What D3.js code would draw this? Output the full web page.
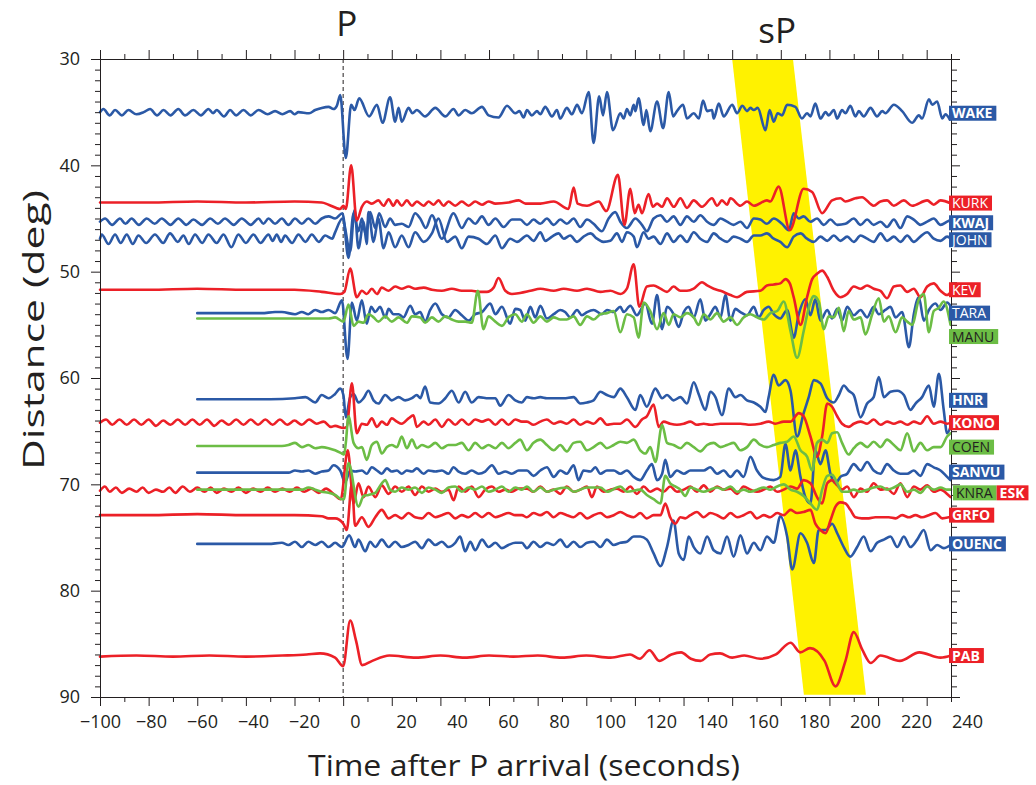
<!DOCTYPE html>
<html><head><meta charset="utf-8">
<script src="https://cdn.jsdelivr.net/npm/d3@7"></script>
<style>body{margin:0;background:#fff;}svg text{font-family:"Open Sans",sans-serif;fill:#231f20;}</style>
</head><body><svg id="c" width="1036" height="785"></svg>
<script>
// ---------------- DATA ----------------
const stationNames = ["WAKE","KURK","KWAJ","JOHN","KEV","TARA","MANU","HNR","KONO","COEN","SANVU","KNRA","ESK","GRFO","OUENC","PAB"];
const stationDist  = [35.1,43.5,45.3,46.9,51.7,53.9,54.4,62.0,64.2,66.4,68.9,70.5,70.6,72.9,75.6,86.2];
const labelDist    = [35.1,43.55,45.4,47.0,51.7,53.9,56.1,62.1,64.2,66.5,68.85,70.8,70.8,72.9,75.6,86.1];
const stationGroup = ["A","B","A","A","B","A","C","A","B","C","A","C","B","B","A","B"];
const boldLabels   = ["WAKE","KWAJ","HNR","KONO","SANVU","ESK","GRFO","OUENC","PAB"];
const timeTickLabels = [-100,-80,-60,-40,-20,0,20,40,60,80,100,120,140,160,180,200,220,240];
const distTickLabels = [30,40,50,60,70,80,90];
const phaseNames = ["P","sP"];
const phaseLabelTime = [1.5,178.5];
const sPBandDist  = [30,89.8];
const sPBandStart = [160,189.5];
const sPBandEnd   = [185,215];

// traces: [time after P (s), amplitude (0.1 deg, positive = toward smaller distance)]
const WAKE=[[-100,1],[-98.6,4],[-96,-2],[-93.8,3],[-91,-2],[-88.3,3],[-85,-1],[-82,1],[-79.4,4],[-76.5,-2],[-73.9,3],[-71,-2],[-67.8,4],[-65,-2],[-61.6,3],[-58.5,-2],[-55.4,4],[-53.5,0],[-52,3],[-49,-3],[-46.5,3],[-44,-2],[-41,3],[-38,-2],[-34.8,3],[-31,-1],[-28,2],[-25,-1],[-21.8,2],[-20,-1],[-18.4,1],[-14,0],[-11.5,3],[-8.8,5],[-6,6],[-4,4],[-2.6,7],[-1.2,17],[1.1,-42],[3.3,8],[4.7,3],[6.6,14],[10.7,-3],[13.9,8],[16.2,-9],[19.3,15],[21.4,-8],[22.8,5],[24.1,-8],[26.9,5],[28.5,0],[30.3,3],[33.7,-3],[37.9,5],[42,-3],[45.4,4],[47.5,-2],[50.2,3],[52.9,0],[57.1,6],[59.8,-2],[63.9,-4],[67.4,7],[70.8,0],[72.5,2],[74.2,-4],[75.6,3],[77.6,-2],[79.7,2],[81.1,-1],[83.1,6],[85.9,-3],[87.9,3],[89.3,-5],[92,5],[94.1,-1],[96.2,8],[98.2,0],[101,20],[103,-28],[105.3,16],[106.9,-2],[108.5,20],[111,-16],[114,0],[115.4,-5],[116.7,4],[118.1,-2],[119.5,8],[120.2,2],[121.5,14],[123.6,-11],[124.7,3],[126.3,-17],[129.1,11],[131.6,-14],[133.9,20],[135.7,-3],[137.3,2],[139.8,8],[141.4,-5],[144.2,0],[146.3,-5],[148,12],[149.7,2],[151.7,3],[152.4,-5],[154.5,9],[156.5,-3],[160,8],[162,0],[164.2,7],[166.1,2],[167.5,5],[168.9,3],[170.5,5],[173.7,-16],[175.4,3],[177.1,-8],[178.7,0],[180.5,-2],[182.6,8],[186,6],[188.7,-5],[190.8,0],[192.2,-3],[194.2,9],[196.3,-5],[198.4,1],[199.7,-2],[201.8,3],[203.2,-5],[205.2,3],[206.6,0],[208.6,7],[210.7,-3],[212.1,2],[214.1,-3],[216.9,5],[219.6,-3],[221.7,2],[223,0],[226.5,8],[229.9,2],[234,-9],[236.8,-2],[238.1,-5],[240.9,13],[242.3,8],[244.3,11],[246.4,-5],[247.7,-1],[249.5,-6]];
const KURK=[[-100,0],[-80,0],[-60,1],[-40,0],[-20,1],[-8.8,0],[-6,-2],[-1.2,-6],[0.1,-3],[1.1,-6],[3.3,35],[5.6,-17],[7.7,-4],[9.7,1],[11.8,-1],[14.5,2],[16.6,-3],[18.7,3],[20.7,-3],[22.1,2],[24.1,-3],[26.2,2],[28.3,-3],[30.3,1],[33.1,-3],[35.1,1],[37.2,-2],[39.2,2],[41.3,-3],[43.3,1],[46.1,-3],[48.8,1],[51.6,-3],[54.3,1],[57.1,-2],[59.8,1],[62.6,-1],[68,0],[72.2,2],[75,-1],[81.1,-1],[86.6,1],[92.7,-6],[94.8,14],[96.4,-1],[100.3,-3],[105.1,1],[108.2,-8],[113,26],[115.7,-21],[118.1,13],[119.9,-10],[121.5,-2],[122.9,-10],[125.6,8],[127.4,-4],[129.1,-1],[131.2,-4],[133.2,4],[136,-4],[138.7,4],[141.4,-5],[144.2,2],[147.6,-4],[151.7,4],[153.8,-3],[155.8,2],[157.9,-2],[159.3,4],[163.4,-3],[166.1,1],[168.9,-3],[174.3,2],[175.7,1],[179.1,15],[183.7,-26],[189.4,13],[192.9,10],[197,-10],[201.1,2],[204.5,4],[206.6,1],[210.7,4],[213.4,5],[218.2,-3],[221,1],[223.7,2],[226.5,-3],[230.6,2],[234,-3],[240.2,2],[242.9,-2],[245.7,2],[250,-1]];
const KWAJ=[[-100,0],[-97.9,3],[-95,-3],[-91.8,3],[-89.5,-2],[-87,3],[-84,-3],[-80.8,3],[-77.5,-2],[-74.6,3],[-71,-3],[-67.8,3],[-64.5,-3],[-61.6,2],[-58,-3],[-54.7,3],[-51.5,-2],[-48.6,3],[-45,-3],[-41.7,3],[-38,-3],[-34.8,3],[-32.8,-2],[-30.7,3],[-28,-2],[-25.2,3],[-22.5,-3],[-19.8,3],[-17,-2],[-14.3,3],[-11.5,-2],[-8.8,3],[-6,5],[-3.3,3],[-0.3,8],[2.2,-34],[4.3,8],[6.3,-9],[7.7,3],[9.3,-12],[11.1,9],[13.2,-6],[14.8,8],[17.3,-5],[19.3,3],[21.4,-3],[24.1,-2],[26.9,-5],[29.6,8],[31.7,3],[34,-6],[36.5,6],[40.6,-16],[45.4,8],[48.8,-6],[51.6,3],[54.3,-2],[57.1,5],[59.8,-3],[62.6,3],[66,-5],[69.4,2],[72.8,2],[75.6,-3],[78.3,2],[81.1,-2],[83.8,3],[86.6,-3],[89.3,2],[92,-2],[94.8,3],[97.5,-5],[100.3,2],[103,-2],[106.4,-9],[109.2,3],[111.9,9],[114,0],[116.7,-6],[120.2,3],[122.9,-3],[124.9,-9],[127.7,3],[130.5,6],[133.2,0],[135.9,5],[138.7,-3],[141.4,5],[144.2,0],[146.9,6],[149.7,0],[152.4,-3],[155.2,3],[157.9,0],[160.6,-3],[163.4,0],[166.1,-6],[168.9,3],[171.6,2],[174.3,-2],[177.1,3],[180.5,-2],[183.3,-8],[185.3,8],[187.4,3],[189.4,5],[192.2,0],[194.9,3],[197.7,-3],[200.4,2],[203.2,-3],[206.6,-2],[210,3],[212.8,-3],[215.5,2],[218.2,-3],[221,0],[223.7,-5],[226.5,2],[229.2,-6],[232,5],[234.7,2],[237.4,-3],[240.2,0],[242.9,3],[245.7,-3],[248.4,0],[250,2]];
const JOHN=[[-100,0],[-99.3,4],[-96.5,-5],[-93.8,4],[-91.5,-4],[-89,4],[-86.5,-5],[-84.2,3],[-81,-4],[-77.4,4],[-74,-4],[-71.2,5],[-68,-3],[-65.7,3],[-63.5,-5],[-60.9,4],[-58,-4],[-55.4,4],[-52,-4],[-49.2,4],[-46,-8],[-43.1,4],[-40,-4],[-36.9,4],[-34,-4],[-30.7,4],[-29,-2],[-27.3,4],[-25.5,-3],[-23.9,3],[-21,-4],[-18.4,4],[-15.5,-3],[-12.9,4],[-10,-3],[-7.4,3],[-4.5,0],[-3.3,6],[-0.3,19],[2.9,-12],[4.7,27],[6.3,-9],[8.4,16],[9.7,-5],[10.4,25],[12.5,-3],[14.5,19],[16.6,-9],[18.7,6],[21.4,-8],[24.1,3],[26.9,-8],[29.6,6],[33.1,-3],[36.5,5],[39.2,19],[42.7,-3],[46.1,2],[48.8,-9],[51.6,2],[55.7,0],[59.1,-5],[62.6,3],[65.3,-9],[68.7,0],[71.5,-3],[75.6,3],[78.3,-2],[81.1,6],[83.1,-2],[85.9,2],[88.6,5],[90.7,0],[93.4,3],[96.2,-3],[98.9,2],[101.7,5],[104.4,0],[107.1,-3],[109.9,-2],[112.6,5],[114.7,-3],[116.7,6],[119.5,2],[120.8,-8],[123.6,6],[125.6,0],[127.7,2],[130.5,-5],[133.2,5],[135.9,-3],[138.7,3],[141.4,-3],[144.2,6],[146.9,0],[149.7,-3],[152.4,5],[155.2,0],[157.9,-3],[160.6,2],[163.4,0],[166.1,-3],[168.9,3],[171.6,3],[174.3,5],[177.1,0],[179.8,-3],[182.6,-8],[185.3,2],[188.1,5],[190.8,0],[193.6,-3],[196.3,2],[199.1,-2],[201.8,3],[204.5,-2],[207.3,2],[210,-3],[212.8,3],[215.5,0],[218.2,-3],[221,5],[223.7,-2],[226.5,2],[229.2,-3],[232,3],[234.7,-3],[237.4,2],[240.2,6],[242.9,0],[245.7,-2],[248.4,2],[250,0]];
const KEV=[[-100,0],[-80,0],[-60,1],[-40,0],[-20,0],[-8.8,-2],[-1.2,-4],[0.5,-2],[2.9,20],[5.6,-7],[7.7,-1],[9.7,-4],[11.8,1],[13.9,-4],[15.9,2],[18.7,-1],[21.4,3],[24.1,1],[26.9,3],[29.6,1],[33.1,2],[36.5,0],[40.6,-1],[44.7,1],[48.8,-1],[52.9,-1],[55.7,-2],[59.1,-2],[61.9,2],[63.9,11],[66.7,-1],[69.4,-4],[72.8,-3],[77,-1],[81.1,1],[86.6,-1],[90.7,1],[96.2,-1],[100.3,1],[105.8,-2],[109.9,-1],[114,-4],[116.7,1],[119.5,24],[121.8,-16],[124.9,3],[127.7,4],[130.5,1],[133.2,-2],[135.9,3],[138.7,-1],[141.4,-1],[144.2,1],[147.6,7],[149.7,4],[152.4,1],[155.2,-1],[159.3,-5],[162,-7],[166.1,-2],[171.6,-1],[174.3,4],[177.1,5],[179.8,6],[181.9,10],[183.7,6],[185.3,-7],[188.1,-33],[190.8,-7],[192.9,10],[194.9,15],[197,18],[199.1,12],[201.8,-1],[204.5,-7],[207.3,-4],[210,3],[212.8,1],[215.5,4],[218.2,1],[221,-1],[223.7,-8],[226.5,3],[229.2,4],[232,-2],[234.7,1],[237.4,-7],[240.2,3],[242.9,6],[245.7,-1],[248.4,-5],[250,-2]];
const TARA=[[-60,0],[-45,0],[-33.5,0],[-28,1],[-25.2,1],[-19.8,-1],[-17,1],[-14.3,-1],[-11.5,3],[-8.8,1],[-6,3],[-3.3,0],[-0.5,12],[1.8,-43],[3.6,10],[5.6,-7],[7.7,12],[9.7,-10],[11.5,6],[13.2,1],[15.2,6],[17.3,-4],[18.7,4],[20.7,-1],[22.8,-1],[24.8,-4],[27.6,7],[29.6,-1],[31.7,1],[33.7,-8],[35.8,3],[37.9,9],[40.6,-1],[43.3,-4],[46.1,3],[48.8,-2],[51.6,-7],[54.3,-1],[57.1,1],[60.5,9],[62.6,-1],[65.3,6],[68.7,-10],[70.8,4],[72.8,3],[74.9,-7],[77,6],[79,-4],[81.1,7],[83.8,-5],[86.6,-1],[89.3,3],[91.3,1],[93.4,-4],[96.2,3],[98.2,-2],[100.3,1],[103,3],[106.4,-1],[108.5,3],[111.3,1],[114,6],[115.4,1],[118.1,7],[120.8,-2],[124.3,9],[127,-10],[129.1,17],[131.2,-15],[133.2,6],[135.9,-1],[138,-13],[140.1,1],[142.1,6],[144.2,-4],[146.9,13],[149,-7],[151,-1],[153.1,6],[155.2,-4],[157.2,17],[159.3,-7],[161.3,4],[163.4,1],[166.1,-2],[168.9,6],[170.9,-4],[173,3],[175,6],[177.1,-1],[179.8,-5],[182.6,3],[185.3,-23],[187.4,-1],[190.1,13],[192.2,-2],[194.2,13],[196.3,-7],[199.1,3],[201.1,-5],[203.2,4],[205.2,-7],[207.3,6],[210,-2],[212.8,3],[215.5,-4],[218.2,6],[220.3,-1],[223,3],[225.1,6],[227.2,-4],[229.9,1],[232.7,-32],[234.7,-1],[236.8,15],[238.8,-7],[240.9,3],[243.6,9],[245.7,3],[248.4,10],[250,6]];
const MANU=[[-60,0],[-30,0],[-6,0],[-3.3,1],[0.1,-3],[2.2,13],[4.3,-7],[6.3,-3],[8.4,-4],[10.4,4],[12.5,1],[14.5,-3],[17.3,2],[20,-3],[22.8,1],[26.2,-4],[28.3,2],[31.7,1],[33.7,-4],[36.5,1],[39.2,-3],[42,2],[44.7,-1],[47.5,-3],[50.2,-3],[52.9,-4],[55.4,26],[57.7,-10],[59.8,2],[62.6,-3],[65.3,-7],[68,1],[70.8,4],[73.5,-3],[75.6,4],[78.3,-4],[81.1,2],[83.8,-3],[86.6,1],[89.3,-1],[92,-1],[94.8,2],[97.5,-6],[100.3,2],[103,-1],[105.8,4],[108.5,5],[111.3,7],[114,-13],[116.7,4],[119.5,1],[121.5,-18],[123.6,15],[126.3,7],[129.1,-10],[131.8,5],[133.9,-6],[135.9,4],[138.7,1],[141.4,5],[144.2,1],[146.2,-6],[148.3,4],[151,-1],[153.8,5],[156.5,-3],[159.3,1],[162,-6],[164.7,1],[167.5,4],[170.2,1],[173,-1],[175.7,5],[178.5,7],[181.2,16],[184,-12],[186.7,-37],[189.4,-12],[191.5,10],[193.6,21],[195.6,16],[197.7,-10],[199.7,2],[201.8,1],[203.9,10],[205.9,-12],[207.9,7],[210,-1],[212.8,1],[214.8,-15],[217.6,4],[220.3,19],[222.4,-3],[224.4,2],[227.2,-13],[229.9,1],[232,-3],[234,-6],[236.8,18],[238.8,23],[240.9,-13],[242.9,7],[245,10],[247,16],[249.8,-6]];
const HNR=[[-60,0],[-30,0],[-19.8,1],[-15.5,2],[-11.5,-3],[-8.8,4],[-6,1],[-3.3,5],[-1.2,10],[0.1,4],[1.1,-17],[2.9,2],[4.3,5],[6.3,-3],[8.4,1],[10.4,8],[12.5,-1],[14.5,-4],[17.3,4],[20,-1],[22.8,2],[25.5,-1],[28.3,1],[30.3,4],[31.7,1],[33.7,12],[35.8,-3],[39.2,-4],[42,1],[44.7,8],[47.5,-3],[50.2,7],[52.9,-3],[55.7,2],[59.8,1],[62.6,1],[64.6,-6],[68,4],[70.8,-1],[73.5,-3],[75.6,2],[78.3,1],[81.1,2],[83.8,1],[86.6,1],[90.7,1],[94.8,2],[97.5,-4],[100.3,-3],[103,-1],[105.8,7],[108.5,4],[111.3,2],[114,10],[116.7,2],[120.2,-10],[122.2,4],[124.9,-7],[128.4,10],[131.2,1],[133.2,4],[135.9,-1],[138.7,2],[141.4,-4],[144.2,16],[146.2,5],[149,-10],[151,7],[153.1,2],[155.8,-15],[158.6,10],[161.3,2],[163.4,4],[166.1,-1],[168.9,-3],[171.6,-7],[173.7,-12],[175,2],[177.1,23],[179.1,13],[181.9,18],[184,8],[186.7,-35],[189.4,-13],[191.5,2],[193.6,18],[196.3,15],[199.1,1],[201.8,-3],[203.9,4],[205.9,13],[207.9,8],[210,4],[212.8,-17],[215.5,-4],[218.2,2],[220.3,21],[222.4,2],[225.1,7],[227.9,8],[230.6,4],[233.3,-10],[235.4,-4],[238.1,2],[240.9,13],[242.9,-7],[245,24],[247,-10],[248.4,-32],[249.8,-26]];
const KONO=[[-100,0],[-97.5,3],[-95,-2],[-92,3],[-89,-2],[-86,3],[-83,-2],[-80,3],[-77,-3],[-74,2],[-71,-2],[-68,3],[-65,-2],[-62,3],[-59,-2],[-56,3],[-53,-3],[-50,2],[-47,-2],[-44,3],[-41,-2],[-38,3],[-35,-2],[-32,3],[-29,-2],[-26,3],[-23,-2],[-20,2],[-17,-2],[-14,3],[-11,-1],[-8,1],[-5,-4],[-3.3,-3],[0.1,-5],[1.5,-4],[3.6,37],[5.6,-10],[7.7,-1],[9.7,-2],[11.8,4],[13.9,-4],[15.9,1],[18,-2],[20,4],[22.1,1],[24.1,-1],[26.9,4],[28.9,7],[30.3,-4],[33.1,1],[35.1,-2],[37.9,3],[40.6,-4],[43.3,3],[46.1,-2],[48.8,3],[51.6,-2],[54.3,3],[57.1,1],[59.8,3],[62.6,-2],[65.3,3],[68,-2],[70.8,3],[73.5,1],[75.6,1],[78.3,-2],[81.1,1],[83.8,3],[86.6,-1],[89.3,1],[92,-1],[94.8,3],[97.5,-2],[100.3,1],[103,-1],[105.8,4],[108.5,-2],[111.3,-1],[114,-1],[116.7,3],[120.2,-4],[122.9,3],[124.9,6],[127.7,17],[129.8,-4],[131.8,1],[134.5,-1],[137.3,-2],[140.1,-1],[142.8,1],[145.5,-2],[148.3,-1],[151,-2],[155.2,-1],[159.3,-1],[163.4,-1],[167.5,-2],[171.6,-1],[175,1],[177.8,-1],[181.2,1],[184,1],[187.4,9],[189.4,6],[192.2,-13],[194.9,-32],[197,-13],[199.1,18],[201.1,15],[203.2,6],[205.2,-1],[207.9,-4],[210,-1],[212.8,1],[215.5,-1],[218.2,3],[221,-2],[223.7,1],[226.5,-1],[229.2,1],[232,-2],[234.7,1],[237.4,-1],[240.2,6],[242.9,-1],[245.7,1],[248.4,-1],[250,0]];
const COEN=[[-60,0],[-25.2,0],[-22.5,1],[-19.8,3],[-17,-1],[-14.3,1],[-11.5,-2],[-8.8,-1],[-6,-2],[-3.3,-4],[-0.5,-7],[0.4,-8],[1.1,3],[2.2,28],[4.3,3],[6.3,-2],[7.7,-1],[9.7,-13],[11.8,1],[13.9,4],[15.9,-7],[18,-1],[20,1],[22.1,-1],[24.1,9],[26.2,-2],[28.3,6],[30.3,-2],[32.4,1],[35.1,-1],[37.9,3],[40.6,-2],[43.3,1],[46.1,1],[48.8,3],[51.6,-4],[54.3,3],[57.1,-2],[59.8,1],[62.6,-2],[65.3,3],[68,-2],[70.8,3],[72.8,6],[75.6,-4],[78.3,3],[81.1,6],[83.8,1],[86.6,-4],[89.3,1],[92,-5],[94.8,3],[97.5,4],[100.3,-4],[103,-1],[105.8,3],[108.5,-2],[111.3,1],[114,4],[116.7,3],[119.5,6],[122.2,-4],[124.3,-7],[126.3,-1],[128.4,-15],[131.2,20],[133.2,3],[135.9,1],[138.7,-2],[141.4,3],[144.2,-1],[146.9,-5],[149.7,1],[152.4,3],[155.2,-1],[157.9,1],[160.6,3],[163.4,-4],[166.1,-1],[168.9,6],[171.6,1],[174.3,-1],[177.1,1],[179.8,3],[182.6,4],[185.3,9],[188.1,-4],[190.8,-10],[192.9,-23],[194.9,3],[197,6],[199.1,3],[201.1,12],[203.2,13],[205.2,3],[207.9,-8],[210,-2],[212.8,3],[215.5,-1],[218.2,4],[221,-1],[223.7,6],[226.5,1],[229.2,-4],[232,12],[234.7,-5],[237.4,3],[240.2,-4],[242.9,-1],[245.7,-1],[248.4,9],[249.8,12]];
const SANVU=[[-60,0],[-22.5,0],[-19.8,2],[-17,1],[-14.3,2],[-11.5,-1],[-8.8,1],[-6,2],[-4,7],[-1.2,2],[0.8,-9],[2.9,2],[4.9,1],[7.7,2],[9.7,-1],[11.8,5],[13.9,2],[15.9,-1],[18,4],[20,1],[22.1,2],[24.1,-1],[26.2,2],[28.3,1],[30.3,4],[33.1,-1],[35.1,2],[37.9,1],[40.6,2],[43.3,-1],[45.4,5],[47.5,1],[50.2,-1],[52.9,2],[55.7,-1],[58.4,1],[61.2,7],[63.9,-1],[66.7,1],[69.4,-1],[72.2,2],[75.6,2],[78.3,-3],[81.1,2],[83.8,5],[86.6,-4],[89.3,2],[92,-1],[94.8,7],[96.8,-7],[98.9,2],[101.7,1],[103.7,5],[105.8,-1],[108.5,2],[111.3,2],[114,-1],[116.7,2],[119.5,-4],[122.2,-7],[124.9,2],[127,8],[129.1,-7],[131.2,-1],[132.5,12],[134.5,-4],[137.3,2],[140.1,-1],[142.8,2],[145.5,2],[148.3,2],[151,5],[153.8,-1],[156.5,2],[159.3,-4],[162,2],[164.7,-4],[167.5,15],[170.2,2],[172.3,-4],[174.3,-6],[177.1,-7],[179.8,-4],[181.9,27],[184,2],[186,21],[188.1,-4],[190.1,-23],[192.2,-29],[194.2,21],[196.3,8],[198.4,21],[200.4,-1],[202.5,-10],[204.5,-4],[207.3,-1],[210,8],[212.8,2],[215.5,10],[218.2,2],[221,-1],[223.7,8],[226.5,2],[229.2,-1],[232,-1],[234.7,2],[237.4,-3],[240.2,8],[242.9,5],[245.7,2],[248.4,-4],[249.8,-7]];
const KNRA=[[-60,0],[-17,0],[-14.3,2],[-11.5,0],[-8.8,-2],[-6,-3],[-3.3,-5],[-0.5,-9],[0.3,-9],[2.2,25],[6.3,-16],[8.4,-6],[10.4,-5],[13.2,-3],[15.9,6],[17.3,9],[19.3,0],[21.4,-2],[24.1,2],[26.9,0],[29.6,2],[32.4,-3],[35.1,2],[37.9,0],[40.6,-3],[43.3,2],[46.1,3],[48.8,-2],[51.6,2],[54.3,0],[57.1,3],[59.8,-2],[62.6,0],[65.3,3],[68,-2],[70.8,2],[73.5,0],[75.6,3],[78.3,-2],[81.1,2],[83.8,-2],[86.6,0],[92,2],[94.8,-2],[100.3,2],[105.8,2],[108.5,-2],[114,3],[116.7,-2],[122.2,0],[124.9,-5],[127.7,-9],[130.5,-13],[132.5,13],[134.5,6],[136.6,3],[138.7,0],[140.7,-6],[142.8,2],[145.5,0],[148.3,-2],[151,0],[153.8,2],[156.5,0],[159.3,3],[162,-2],[164.7,0],[167.5,-2],[170.2,0],[173,2],[175.7,0],[178.5,3],[181.2,5],[184,0],[186.7,-2],[189.4,-6],[192.2,-13],[194.9,-19],[197,0],[199.1,13],[201.1,14],[203.2,6],[205.2,-2],[207.3,-2],[210,0],[212.8,-2],[215.5,0],[218.2,2],[221,3],[223.7,0],[226.5,2],[229.2,5],[232,-2],[234.7,0],[237.4,-3],[240.2,3],[242.9,0],[245.7,2],[248.4,0],[250,0]];
const ESK=[[-100,0],[-98,4],[-96,-1],[-93.5,3],[-91,-2],[-88,2],[-85,-1],[-82.5,3],[-80,-2],[-77,1],[-74,-1],[-71.5,3],[-69,-2],[-66,4],[-63,-1],[-60,3],[-57,-1],[-54.5,3],[-52,-2],[-49,2],[-46,-1],[-43,3],[-40,-2],[-37,2],[-34,-1],[-31,3],[-28,-1],[-25,2],[-22,-1],[-19,3],[-16,-1],[-13,2],[-10,-2],[-7,2],[-4,-3],[-1,-8],[1.9,38],[4.3,-12],[6.3,7],[8.4,-6],[10.4,4],[13.2,-6],[15.9,5],[18.7,-3],[21.4,4],[24.1,-1],[26.9,4],[29.6,-4],[32.4,4],[35.1,-1],[37.9,2],[40.6,-1],[43.3,1],[45.4,-9],[47.5,4],[50.2,-1],[52.9,4],[55.7,-6],[58.4,1],[61.2,4],[63.9,-1],[66.7,1],[69.4,-1],[72.2,2],[75.6,2],[78.3,-1],[81.1,4],[83.8,-1],[86.6,1],[89.3,-3],[92,4],[94.8,-1],[97.5,1],[100.3,4],[102.3,-6],[104.4,4],[107.1,-1],[109.9,1],[112.6,2],[115.4,-1],[118.1,4],[120.8,-3],[123.6,4],[126.3,-1],[129.1,2],[131.8,-1],[134.5,4],[137.3,-1],[140.1,1],[142.8,4],[145.5,-1],[148.3,5],[151,-1],[153.8,4],[156.5,1],[159.3,2],[162,-3],[164.7,4],[167.5,1],[170.2,-1],[173,1],[175.7,4],[178.5,-1],[181.2,1],[184,4],[186.7,2],[189.4,10],[192.2,7],[194.9,-6],[197,-12],[199.1,7],[201.1,10],[203.2,5],[205.2,1],[207.3,4],[210,-6],[212.8,2],[215.5,-1],[218.2,7],[221,1],[223.7,2],[226.5,-3],[229.2,7],[232,-6],[234.7,4],[237.4,1],[240.2,5],[242.9,-1],[245.7,1],[248.4,-3],[249.8,-6]];
const GRFO=[[-100,0],[-80,0],[-60,1],[-40,0],[-20,0],[-8.8,-1],[-6,-3],[-3.3,-3],[0.1,-8],[1.5,-14],[3.6,30],[4.9,-10],[7.7,-2],[10.4,-11],[13.2,-2],[15.9,5],[18.7,-3],[21.4,0],[24.1,-3],[26.9,2],[29.6,-2],[32.4,-3],[35.1,2],[37.9,-2],[40.6,0],[43.3,2],[46.1,-3],[48.8,0],[51.6,-2],[54.3,2],[57.1,-2],[59.8,2],[62.6,-2],[65.3,0],[68,2],[70.8,0],[73.5,0],[75.6,-2],[78.3,2],[81.1,0],[83.8,3],[86.6,-2],[89.3,2],[92,0],[94.8,-2],[97.5,2],[100.3,-3],[103,0],[105.8,2],[108.5,-2],[111.3,0],[114,3],[116.7,0],[119.5,-2],[122.2,2],[124.9,-3],[127.7,0],[130.5,0],[132.5,11],[134.5,-2],[136.6,-8],[138.7,-2],[140.7,-3],[142.8,0],[145.5,3],[148.3,-2],[151,2],[153.8,0],[156.5,-3],[159.3,2],[162,-2],[164.7,0],[167.5,3],[170.2,-3],[173,0],[175.7,-2],[178.5,2],[181.2,0],[184,5],[186.7,2],[189.4,3],[192.2,5],[194.2,-8],[196.3,-14],[198.4,-17],[200.4,-5],[202.5,8],[204.5,12],[206.6,11],[208.6,5],[210.7,-2],[213.4,-3],[216.2,-3],[218.9,-2],[221.7,-2],[224.4,-2],[227.2,-3],[229.9,0],[232.7,-2],[235.4,0],[238.1,-2],[240.9,0],[243.6,2],[246.4,-3],[249.1,-2]];
const OUENC=[[-60,0],[-33.5,0],[-30.7,0],[-25.2,1],[-22.5,-1],[-19.8,2],[-17,-3],[-14.3,2],[-11.5,-1],[-8.8,2],[-6,-3],[-3.3,1],[-0.5,-3],[2.5,8],[4.9,-3],[6.3,4],[9.1,-7],[11.1,2],[13.2,-3],[15.9,4],[18.7,-3],[21.4,2],[24.1,-3],[26.9,-1],[29.6,2],[32.4,-4],[35.1,4],[37.9,-1],[40.6,2],[43.3,-3],[46.1,1],[48.1,7],[50.2,-7],[52.3,2],[54.3,-6],[57.1,4],[59.8,-3],[62.6,1],[65.3,-4],[68,-1],[70.8,1],[73.5,1],[75.6,-4],[78.3,2],[81.1,-3],[83.8,1],[86.6,-1],[89.3,4],[92,-3],[94.8,2],[97.5,-3],[100.3,1],[103,2],[105.8,-3],[108.5,4],[111.3,-1],[114,1],[116.7,2],[119.5,7],[122.2,7],[124.9,4],[127.7,-9],[130.5,-21],[133.2,-3],[135.9,22],[138,-9],[140.1,-15],[142.1,7],[144.2,-3],[146.9,-9],[149.7,7],[152.4,-6],[155.2,-9],[157.9,7],[160.6,-12],[163.4,8],[166.1,-9],[168.9,1],[171.6,-6],[174.3,7],[177.1,1],[179.8,26],[182.6,7],[184.7,-24],[188.1,10],[190.8,1],[193.6,-18],[195.6,13],[198.4,13],[201.1,19],[203.2,10],[205.9,-3],[208.6,-12],[211.4,-3],[214.1,7],[216.9,-7],[219.6,1],[222.4,4],[225.1,7],[227.9,-3],[230.6,7],[233.3,-3],[236.1,4],[238.8,13],[241.6,-6],[244.3,-1],[247,-4],[249.8,-1]];
const PAB=[[-100,0],[-85,1],[-70,0],[-55,1],[-40,0],[-25,1],[-15,2],[-9.5,3],[-3.3,-1],[0,-9],[2.9,34],[5.3,15],[7.8,-8],[12,-4],[19,1],[30,-1],[40,1],[50,-1],[60,1],[70,0],[80,1],[90,-1],[100,1],[110,-1],[118,2],[122,-2],[126,6],[130,-4],[135,2],[139,4],[143,-2],[147,-4],[151,2],[155,3],[160,-1],[165,1],[171.6,-2],[178,2],[184,13],[188,4],[192,8],[198,-4],[202.5,-28],[206.6,-4],[210,23],[213.6,6],[217,-6],[221,1],[229,-4],[237,4],[245.7,-1],[250,1]];
const traceData = {WAKE,KURK,KWAJ,JOHN,KEV,TARA,MANU,HNR,KONO,COEN,SANVU,KNRA,ESK,GRFO,OUENC,PAB};

// ---------------- CHART ----------------
const svg = d3.select("#c");
const ink = "#231f20";
const groupColor = d3.scaleOrdinal().domain(["A","B","C"]).range(["#2b59a6","#ec2027","#6cbd45"]);
const x = d3.scaleLinear().domain([-100,250]).range([100,951]);
const xLab = d3.scaleLinear().domain([-100,240]).range([100,967]);
const y = d3.scaleLinear().domain([30,90]).range([59,697]);

// sP band
const bandPts = [[sPBandStart[0],sPBandDist[0]],[sPBandEnd[0],sPBandDist[0]],[sPBandEnd[1],sPBandDist[1]],[sPBandStart[1],sPBandDist[1]]];
svg.append("polygon").attr("points", bandPts.map(p=>[x(p[0]),y(p[1])].join(",")).join(" ")).attr("fill","#fff200");

// P line
svg.append("line").attr("x1",x(0)).attr("x2",x(0)).attr("y1",y(30)).attr("y2",y(90))
  .attr("stroke",ink).attr("stroke-width",1).attr("stroke-dasharray","4,3");

// traces
const order = ["A","B","C"];
const idx = d3.range(stationNames.length).sort((a,b)=>order.indexOf(stationGroup[a])-order.indexOf(stationGroup[b]));
const gT = svg.append("g");
idx.forEach(i=>{
  const dist = stationDist[i];
  const line = d3.line().x(d=>x(d[0])).y(d=>y(dist - d[1]/10)).curve(d3.curveMonotoneX);
  gT.append("path").attr("d", line(traceData[stationNames[i]])).attr("fill","none")
    .attr("stroke", groupColor(stationGroup[i])).attr("stroke-width",2.6).attr("stroke-linejoin","round").attr("stroke-linecap","round");
});

// axes
function styleAxis(g){ g.selectAll("path,line").attr("stroke",ink).attr("stroke-width",1); g.selectAll("text").remove(); }
const majT = d3.range(-100,241,20), minT = d3.range(-90,251,20);
svg.append("g").attr("transform",`translate(0,${y(90)})`).call(d3.axisBottom(x).tickValues(majT).tickSize(9).tickSizeOuter(0)).call(styleAxis);
svg.append("g").attr("transform",`translate(0,${y(90)})`).call(d3.axisBottom(x).tickValues(minT).tickSize(5).tickSizeOuter(0)).call(styleAxis);
svg.append("g").attr("transform",`translate(0,${y(30)})`).call(d3.axisTop(x).tickValues(majT).tickSize(9).tickSizeOuter(0)).call(styleAxis);
svg.append("g").attr("transform",`translate(0,${y(30)})`).call(d3.axisTop(x).tickValues(minT).tickSize(5).tickSizeOuter(0)).call(styleAxis);
const majD = d3.range(30,91,10), minD = d3.range(30,91,1).filter(v=>v%10);
svg.append("g").attr("transform",`translate(${x(-100)},0)`).call(d3.axisLeft(y).tickValues(majD).tickSize(9).tickSizeOuter(0)).call(styleAxis);
svg.append("g").attr("transform",`translate(${x(-100)},0)`).call(d3.axisLeft(y).tickValues(minD).tickSize(5).tickSizeOuter(0)).call(styleAxis);
svg.append("g").attr("transform",`translate(${x(250)},0)`).call(d3.axisRight(y).tickValues(majD).tickSize(9).tickSizeOuter(0)).call(styleAxis);
svg.append("g").attr("transform",`translate(${x(250)},0)`).call(d3.axisRight(y).tickValues(minD).tickSize(6).tickSizeOuter(0)).call(styleAxis);

// tick labels
const gxl = svg.append("g").attr("transform",`translate(0,${y(90)})`).call(d3.axisBottom(xLab).tickValues(timeTickLabels).tickSize(0).tickPadding(18));
gxl.select(".domain").remove();
gxl.selectAll("text").attr("font-size",18).attr("fill",ink).attr("font-family","Open Sans");
const gyl = svg.append("g").attr("transform",`translate(${x(-100)},0)`).call(d3.axisLeft(y).tickValues(distTickLabels).tickSize(9).tickPadding(11));
gyl.select(".domain").remove(); gyl.selectAll("line").remove();
gyl.selectAll("text").attr("font-size",18).attr("fill",ink).attr("font-family","Open Sans");

// titles
svg.append("text").attr("x",524).attr("y",776).attr("text-anchor","middle").attr("font-size",30)
  .attr("textLength",432).attr("lengthAdjust","spacingAndGlyphs").text("Time after P arrival (seconds)");
svg.append("text").attr("transform","translate(44,330) rotate(-90)").attr("text-anchor","middle").attr("font-size",30)
  .attr("textLength",280).attr("lengthAdjust","spacingAndGlyphs").text("Distance (deg)");
svg.append("text").attr("x",x(phaseLabelTime[0])).attr("y",36).attr("text-anchor","middle").attr("font-size",35).text(phaseNames[0]);
svg.append("text").attr("x",x(phaseLabelTime[1])).attr("y",43).attr("text-anchor","middle").attr("font-size",35).text(phaseNames[1]);

// station labels
const gL = svg.append("g");
const boxEnd = {};
stationNames.forEach((name,i)=>{
  const bold = boldLabels.includes(name);
  const x0 = (name==="ESK") ? boxEnd["KNRA"] : x(250)-2 + (name==="KNRA"?4:0);
  const cy = y(labelDist[i]);
  const g = gL.append("g");
  const rect = g.append("rect");
  const t = g.append("text").attr("x",x0+3).attr("y",cy+5).attr("font-size",14)
    .attr("font-weight",bold?700:400).attr("fill",stationGroup[i]==="C"?ink:"#fff").style("fill",stationGroup[i]==="C"?ink:"#fff").text(name);
  const w = t.node().getComputedTextLength()+7;
  rect.attr("x",x0).attr("y",cy-7.5).attr("width",w).attr("height",15).attr("fill",groupColor(stationGroup[i]));
  boxEnd[name] = x0+w;
});
</script></body></html>
